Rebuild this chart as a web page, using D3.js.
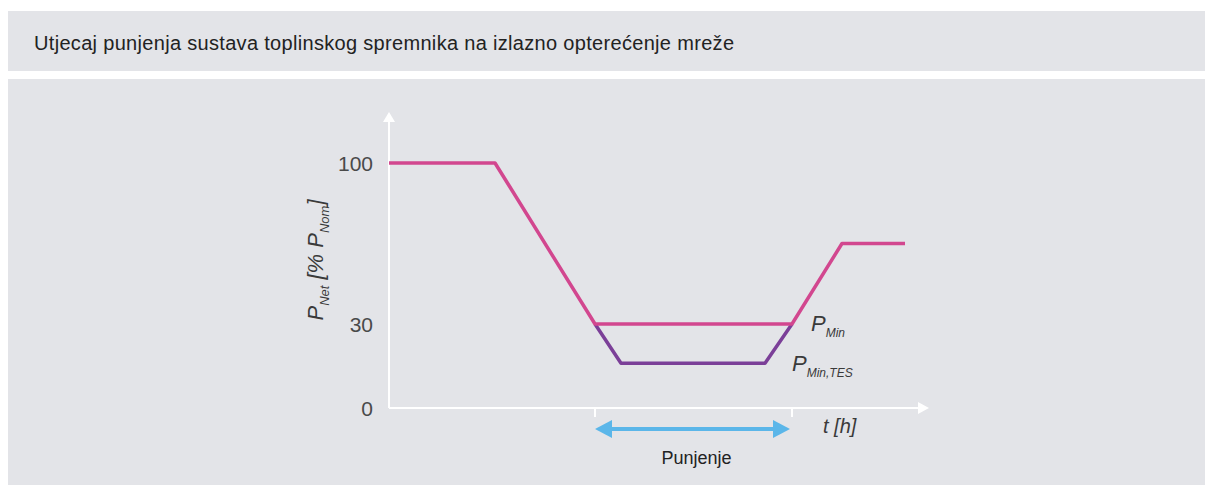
<!DOCTYPE html>
<html>
<head>
<meta charset="utf-8">
<script src="https://cdn.jsdelivr.net/npm/d3@7"></script>
<style>
    body { margin: 0; background: #fff; }
    svg { display: block; }
    text { font-family: "Liberation Sans", Arial, sans-serif; }
</style>
</head>
<body>
<svg id="chart" width="1205" height="485"></svg>
<script>
// schematic load profile
var netTime = [0, 5.3, 10.3, 20.15, 22.65, 25.8];
var netLoad = [100, 100, 30, 30, 65, 65];
var tesTime = [10.3, 11.6, 18.8, 20.15];
var tesLoad = [30, 16, 16, 30];
var yTicks = [0, 30, 100];
var chargeWindow = [10.3, 20.15];
var axisEnd = { t: 27, load: 122 };

var svg = d3.select("#chart");

// background panels
svg.append("rect").attr("x", 8).attr("y", 11).attr("width", 1197).attr("height", 60).attr("fill", "#e3e4e8");
svg.append("rect").attr("x", 8).attr("y", 79).attr("width", 1197).attr("height", 406).attr("fill", "#e3e4e8");

svg.append("text")
    .attr("x", 34).attr("y", 50)
    .attr("font-size", 20)
    .attr("textLength", 700)
    .attr("fill", "#222")
    .text("Utjecaj punjenja sustava toplinskog spremnika na izlazno opterećenje mreže");

var x = d3.scaleLinear().domain([0, axisEnd.t]).range([389, 929]);
// the drawing is not to scale, so the y scale is piecewise
var y = d3.scaleLinear().domain([0, 30, 100, axisEnd.load]).range([408, 324, 163, 112]);

var axes = svg.append("g").attr("class", "axes");

// y axis with arrow
axes.append("line")
    .attr("x1", x(0)).attr("x2", x(0))
    .attr("y1", y(0)).attr("y2", y(axisEnd.load) + 8)
    .attr("stroke", "#fff").attr("stroke-width", 2);
axes.append("path")
    .attr("d", "M" + (x(0) - 6) + "," + (y(axisEnd.load) + 10) + "L" + x(0) + "," + y(axisEnd.load) + "L" + (x(0) + 6) + "," + (y(axisEnd.load) + 10) + "Z")
    .attr("fill", "#fff");

// x axis with arrow
axes.append("line")
    .attr("x1", x(0)).attr("x2", x(axisEnd.t) - 8)
    .attr("y1", y(0)).attr("y2", y(0))
    .attr("stroke", "#fff").attr("stroke-width", 2);
axes.append("path")
    .attr("d", "M" + (x(axisEnd.t) - 11) + "," + (y(0) - 6) + "L" + x(axisEnd.t) + "," + y(0) + "L" + (x(axisEnd.t) - 11) + "," + (y(0) + 6) + "Z")
    .attr("fill", "#fff");

axes.selectAll(".xtick")
    .data(chargeWindow)
    .enter().append("line")
    .attr("class", "xtick")
    .attr("x1", function(d) { return x(d); }).attr("x2", function(d) { return x(d); })
    .attr("y1", y(0)).attr("y2", y(0) + 9)
    .attr("stroke", "#fff").attr("stroke-width", 2);

axes.selectAll(".ytick")
    .data(yTicks)
    .enter().append("text")
    .attr("class", "ytick")
    .attr("x", 373)
    .attr("y", function(d) { return y(d); })
    .attr("dy", "0.36em")
    .attr("text-anchor", "end")
    .attr("font-family", "Open Sans, sans-serif")
    .attr("font-size", 21)
    .attr("fill", "#4a4a4a")
    .text(function(d) { return d; });

// load lines
var line = d3.line()
    .x(function(d) { return x(d[0]); })
    .y(function(d) { return y(d[1]); });

svg.append("path")
    .datum(d3.zip(tesTime, tesLoad))
    .attr("d", line)
    .attr("fill", "none")
    .attr("stroke", "#7b3f98")
    .attr("stroke-width", 3.5)
    .attr("stroke-linejoin", "round");

svg.append("path")
    .datum(d3.zip(netTime, netLoad))
    .attr("d", line)
    .attr("fill", "none")
    .attr("stroke", "#d2478f")
    .attr("stroke-width", 3.5)
    .attr("stroke-linejoin", "round");

// labels
function italic_label(px, py, size, rotate) {
    var t = svg.append("text")
        .attr("x", px).attr("y", py)
        .attr("font-family", "Open Sans, sans-serif")
        .attr("font-style", "italic")
        .attr("fill", "#3a3a3a")
        .attr("font-size", size);
    if (rotate) t.attr("transform", "rotate(-90," + px + "," + py + ")").attr("text-anchor", "middle");
    return t;
}

var pMin = italic_label(811, 331, 22);
pMin.append("tspan").text("P");
pMin.append("tspan").attr("dy", 6).attr("font-size", 12).text("Min");

var pTes = italic_label(792, 371, 22);
pTes.append("tspan").text("P");
pTes.append("tspan").attr("dy", 6).attr("font-size", 12).text("Min,TES");

var yLabel = italic_label(323, 260, 22, true);
yLabel.append("tspan").text("P");
yLabel.append("tspan").attr("dy", 6).attr("font-size", 13).text("Net");
yLabel.append("tspan").attr("dy", -6).text(" [% P");
yLabel.append("tspan").attr("dy", 6).attr("font-size", 13).text("Nom");
yLabel.append("tspan").attr("dy", -6).text("]");

svg.append("text")
    .attr("x", 823).attr("y", 433)
    .attr("font-family", "Open Sans, sans-serif")
    .attr("font-style", "italic")
    .attr("font-size", 20)
    .attr("fill", "#3a3a3a")
    .text("t [h]");

// charging arrow
var arrowY = 429, head = 17;
svg.append("line")
    .attr("x1", x(chargeWindow[0]) + head - 2).attr("x2", x(chargeWindow[1]) - head + 2)
    .attr("y1", arrowY).attr("y2", arrowY)
    .attr("stroke", "#5bb6e9").attr("stroke-width", 4);
svg.append("path")
    .attr("d", "M" + x(chargeWindow[0]) + "," + arrowY + "L" + (x(chargeWindow[0]) + head) + "," + (arrowY - 9) + "L" + (x(chargeWindow[0]) + head) + "," + (arrowY + 9) + "Z")
    .attr("fill", "#5bb6e9");
svg.append("path")
    .attr("d", "M" + (x(chargeWindow[1]) - 2) + "," + arrowY + "L" + (x(chargeWindow[1]) - 2 - head) + "," + (arrowY - 9) + "L" + (x(chargeWindow[1]) - 2 - head) + "," + (arrowY + 9) + "Z")
    .attr("fill", "#5bb6e9");

svg.append("text")
    .attr("x", (x(chargeWindow[0]) + x(chargeWindow[1])) / 2 + 3)
    .attr("y", 464)
    .attr("text-anchor", "middle")
    .attr("font-size", 18)
    .attr("fill", "#222")
    .text("Punjenje");
</script>
</body>
</html>
